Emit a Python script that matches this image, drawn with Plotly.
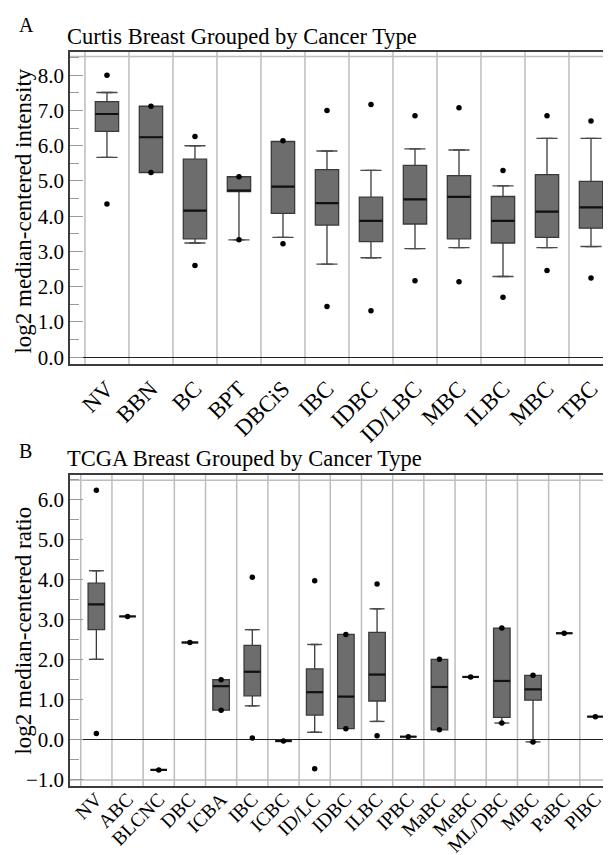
import plotly.graph_objects as go

# ---------------- Data: Panel A (Curtis) ----------------
cats_A = ["NV", "BBN", "BC", "BPT", "DBCiS", "IBC", "IDBC", "ID/LBC", "MBC", "ILBC", "MBC", "TBC"]
A_q1 = [6.41, 5.24, 3.36, 4.70, 4.08, 3.75, 3.28, 3.78, 3.36, 3.24, 3.40, 3.66]
A_med = [6.90, 6.24, 4.16, 4.73, 4.84, 4.37, 3.87, 4.48, 4.55, 3.87, 4.13, 4.25]
A_q3 = [7.25, 7.12, 5.62, 5.12, 6.12, 5.32, 4.54, 5.44, 5.15, 4.56, 5.18, 4.99]
A_lo = [5.67, 5.24, 3.24, 3.33, 3.40, 2.64, 2.82, 3.08, 3.11, 2.29, 3.11, 3.14]
A_hi = [7.51, 7.12, 6.00, 5.12, 6.12, 5.85, 5.30, 5.91, 5.88, 4.86, 6.21, 6.21]
A_pts = [[8.0, 4.35], [7.12, 5.24], [6.26, 2.60], [5.12, 3.33], [6.14, 3.22], [7.0, 1.44],
         [7.17, 1.32], [6.85, 2.17], [7.08, 2.14], [5.30, 1.70], [6.85, 2.46], [6.70, 2.25]]
A_yticks = [0, 1, 2, 3, 4, 5, 6, 7, 8]

# ---------------- Data: Panel B (TCGA) ----------------
cats_B = ["NV", "ABC", "BLCNC", "DBC", "ICBA", "IBC", "ICBC", "ID/LC", "IDBC", "ILBC", "IPBC",
          "MaBC", "MeBC", "ML/DBC", "MBC", "PaBC", "PlBC"]
B_q1 = [2.75, 3.08, -0.75, 2.43, 0.74, 1.10, -0.03, 0.62, 0.28, 0.97, 0.08, 0.25, 1.57, 0.56, 0.99, 2.66, 0.58]
B_med = [3.38, 3.08, -0.75, 2.43, 1.34, 1.70, -0.03, 1.19, 1.08, 1.63, 0.08, 1.32, 1.57, 1.47, 1.26, 2.66, 0.58]
B_q3 = [3.91, 3.08, -0.75, 2.43, 1.50, 2.36, -0.03, 1.77, 2.63, 2.68, 0.08, 2.01, 1.57, 2.79, 1.61, 2.66, 0.58]
B_lo = [2.01, 3.08, -0.75, 2.43, 0.74, 0.85, -0.03, 0.19, 0.28, 0.46, 0.08, 0.25, 1.57, 0.42, -0.05, 2.66, 0.58]
B_hi = [4.22, 3.08, -0.75, 2.43, 1.50, 2.75, -0.03, 2.38, 2.63, 3.27, 0.08, 2.01, 1.57, 2.79, 1.61, 2.66, 0.58]
B_pts = [[6.23, 0.16], [3.08], [-0.75], [2.43], [1.50, 0.74], [4.06, 0.05], [-0.03], [3.97, -0.72],
         [2.63, 0.28], [3.89, 0.10], [0.08], [2.01, 0.25], [1.57], [2.79, 0.42], [1.61, -0.05], [2.66], [0.58]]
B_yticks = [-1, 0, 1, 2, 3, 4, 5, 6]

# ---------------- Style ----------------
W, H = 611, 855
FONT = "Liberation Serif, Times New Roman, serif"
BOX_FILL = "#6d6d6d"
BOX_LINE = "#3a3a3a"
SEP = "#bdbdbd"
FRAME = "#3c3c3c"
BOXW = 0.53
CAPW = 0.48


def px(x):
    return x / W


def py(y):
    return 1 - y / H


fig = go.Figure()


def add_panel(cats, q1, med, q3, lo, hi, pts, xa, ya):
    n = len(cats)
    xs = list(range(n))
    fig.add_trace(go.Box(
        x=xs, q1=q1, median=med, q3=q3, lowerfence=lo, upperfence=hi,
        width=BOXW, fillcolor=BOX_FILL, line=dict(color=BOX_LINE, width=1.3),
        boxpoints=False, hoverinfo="skip", showlegend=False, xaxis=xa, yaxis=ya))
    # whisker caps
    cx, cy = [], []
    for i in xs:
        if hi[i] > q3[i] + 1e-9:
            cx += [i - CAPW / 2, i + CAPW / 2, None]
            cy += [hi[i], hi[i], None]
        if lo[i] < q1[i] - 1e-9:
            cx += [i - CAPW / 2, i + CAPW / 2, None]
            cy += [lo[i], lo[i], None]
    fig.add_trace(go.Scatter(x=cx, y=cy, mode="lines", line=dict(color="#4a4a4a", width=1.4),
                             hoverinfo="skip", showlegend=False, xaxis=xa, yaxis=ya))
    # median lines (thicker, black)
    mx, my = [], []
    for i in xs:
        mx += [i - BOXW / 2, i + BOXW / 2, None]
        my += [med[i], med[i], None]
    fig.add_trace(go.Scatter(x=mx, y=my, mode="lines", line=dict(color="#111111", width=2.2),
                             hoverinfo="skip", showlegend=False, xaxis=xa, yaxis=ya))
    # points
    ox, oy = [], []
    for i, p in enumerate(pts):
        for v in p:
            ox.append(i)
            oy.append(v)
    fig.add_trace(go.Scatter(x=ox, y=oy, mode="markers", marker=dict(color="black", size=5.5),
                             hoverinfo="skip", showlegend=False, xaxis=xa, yaxis=ya))


add_panel(cats_A, A_q1, A_med, A_q3, A_lo, A_hi, A_pts, "x", "y")
add_panel(cats_B, B_q1, B_med, B_q3, B_lo, B_hi, B_pts, "x2", "y2")

# invisible traces for right-side tick axes
fig.add_trace(go.Scatter(x=[0], y=[0], mode="markers", marker=dict(opacity=0), hoverinfo="skip",
                         showlegend=False, xaxis="x", yaxis="y3"))
fig.add_trace(go.Scatter(x=[0], y=[0], mode="markers", marker=dict(opacity=0), hoverinfo="skip",
                         showlegend=False, xaxis="x2", yaxis="y4"))

# panel geometry (pixels)
A_left, A_right, A_top, A_bot = 62, 605, 44, 359
B_left, B_right, B_top, B_bot = 62, 603, 470, 784
A_xr = [-0.84, len(cats_A) - 0.5]
B_xr = [-0.845, len(cats_B) - 0.5]
A_yr = [-0.206, 8.668]
B_yr = [-1.163, 6.616]

tickfont = dict(family=FONT, size=21, color="black")

common_x = dict(showgrid=False, zeroline=False, showline=True, mirror=True, linecolor=FRAME,
                linewidth=1.5, ticks="", tickangle=-45, fixedrange=True)
common_y = dict(showgrid=False, showline=True, mirror=True, linecolor=FRAME, linewidth=1.5,
                ticks="inside", ticklen=13, tickcolor="#9a9a9a", tickwidth=1.2,
                tickformat=".1f", tickfont=tickfont, zeroline=True, zerolinecolor="#222222",
                zerolinewidth=1.4, fixedrange=True,
                minor=dict(dtick=0.5, ticks="inside", ticklen=9, tickcolor="#9a9a9a", tickwidth=1.2))

fig.update_layout(
    width=W, height=H, margin=dict(l=0, r=0, t=0, b=0),
    paper_bgcolor="white", plot_bgcolor="white",
    xaxis=dict(domain=[px(A_left), px(A_right)], range=A_xr, anchor="y",
               tickmode="array", tickvals=list(range(len(cats_A))), ticktext=cats_A,
               tickfont=dict(family=FONT, size=23, color="black"), **common_x),
    yaxis=dict(domain=[py(A_bot), py(A_top)], range=A_yr, anchor="x",
               tickmode="array", tickvals=A_yticks, **common_y),
    xaxis2=dict(domain=[px(B_left), px(B_right)], range=B_xr, anchor="y2",
                tickmode="array", tickvals=list(range(len(cats_B))), ticktext=cats_B,
                tickfont=dict(family=FONT, size=19.5, color="black"), ticklabelstandoff=-8,
                **common_x),
    yaxis2=dict(domain=[py(B_bot), py(B_top)], range=B_yr, anchor="x2",
                tickmode="array", tickvals=B_yticks, **common_y),
    yaxis3=dict(overlaying="y", anchor="x", side="right", range=A_yr, showgrid=False,
                zeroline=False, showline=False, showticklabels=False, ticks="outside",
                ticklen=6, tickcolor="#9a9a9a", tickwidth=1.2, dtick=0.5, tick0=0, fixedrange=True),
    yaxis4=dict(overlaying="y2", anchor="x2", side="right", range=B_yr, showgrid=False,
                zeroline=False, showline=False, showticklabels=False, ticks="outside",
                ticklen=6, tickcolor="#9a9a9a", tickwidth=1.2, dtick=0.5, tick0=0, fixedrange=True),
)

shapes = []
# category separators
for xr, n, ax in [("x", len(cats_A), "y"), ("x2", len(cats_B), "y2")]:
    for i in range(n + 1):
        shapes.append(dict(type="line", xref=xr, yref=ax + " domain", x0=i - 0.5, x1=i - 0.5,
                           y0=0, y1=1, line=dict(color=SEP, width=1.5), layer="below"))
# inner gray top lines and bottom gray (-1.0) line in B
shapes.append(dict(type="line", xref="x", yref="y", x0=A_xr[0], x1=A_xr[1], y0=8.53, y1=8.53,
                   line=dict(color=SEP, width=1.5), layer="below"))
shapes.append(dict(type="line", xref="x2", yref="y2", x0=B_xr[0], x1=B_xr[1], y0=6.475, y1=6.475,
                   line=dict(color=SEP, width=1.5), layer="below"))
shapes.append(dict(type="line", xref="x2", yref="y2", x0=B_xr[0], x1=B_xr[1], y0=-1.0, y1=-1.0,
                   line=dict(color=SEP, width=1.5), layer="below"))
# title underlines extending to the right edge
shapes.append(dict(type="line", xref="paper", yref="paper", x0=px(A_right), x1=1, y0=py(A_top),
                   y1=py(A_top), line=dict(color=FRAME, width=1.5)))
shapes.append(dict(type="line", xref="paper", yref="paper", x0=px(B_right), x1=1, y0=py(B_top),
                   y1=py(B_top), line=dict(color=FRAME, width=1.5)))
fig.update_layout(shapes=shapes)

ann = []
ann.append(dict(text="A", x=px(9), y=py(17), xref="paper", yref="paper", xanchor="left",
                yanchor="middle", showarrow=False, font=dict(family=FONT, size=20, color="black")))
ann.append(dict(text="B", x=px(9), y=py(446), xref="paper", yref="paper", xanchor="left",
                yanchor="middle", showarrow=False, font=dict(family=FONT, size=20, color="black")))
ann.append(dict(text="Curtis Breast Grouped by Cancer Type", x=px(57), y=py(28.5), xref="paper",
                yref="paper", xanchor="left", yanchor="middle", showarrow=False,
                font=dict(family=FONT, size=22.5, color="black")))
ann.append(dict(text="TCGA Breast Grouped by Cancer Type", x=px(57), y=py(454), xref="paper",
                yref="paper", xanchor="left", yanchor="middle", showarrow=False,
                font=dict(family=FONT, size=22.5, color="black")))
ann.append(dict(text="log2 median-centered intensity", x=px(16), y=py(205), xref="paper",
                yref="paper", xanchor="center", yanchor="middle", textangle=-90, showarrow=False,
                font=dict(family=FONT, size=23, color="black")))
ann.append(dict(text="log2 median-centered ratio", x=px(16), y=py(627), xref="paper",
                yref="paper", xanchor="center", yanchor="middle", textangle=-90, showarrow=False,
                font=dict(family=FONT, size=23, color="black")))
fig.update_layout(annotations=ann)

fig.write_html("out.html")
